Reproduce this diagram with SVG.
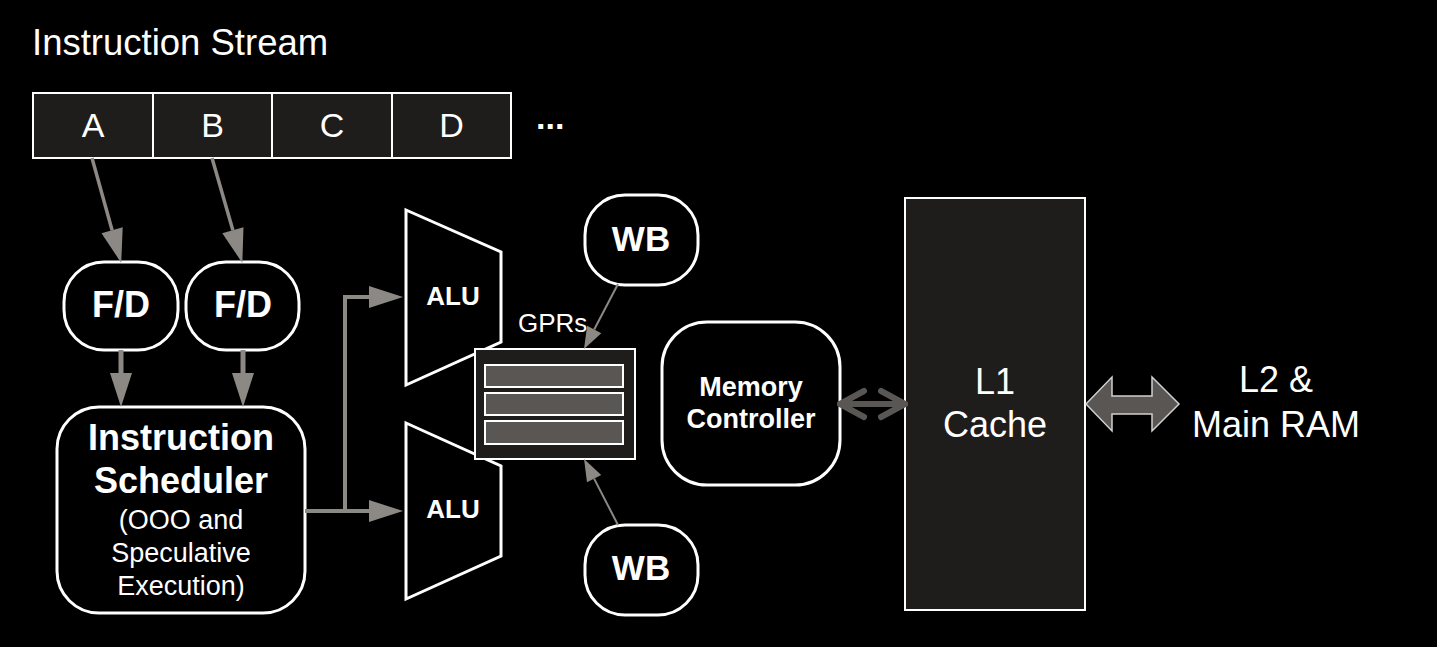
<svg xmlns="http://www.w3.org/2000/svg" width="1437" height="647" viewBox="0 0 1437 647">
<style>
text{font-family:"Liberation Sans",Arial,sans-serif;fill:#fff}
.b{font-weight:bold}
.m{text-anchor:middle}
.node{fill:#000;stroke:#fff;stroke-width:3}
.dark{fill:#1f1d1b;stroke:#fff;stroke-width:2}
.reg{fill:#5a5653;stroke:#fff;stroke-width:2}
.ln{fill:none;stroke:#8c8985}
</style>
<defs>
<marker id="ahL" markerUnits="userSpaceOnUse" viewBox="0 -12 34 24" refX="0" refY="0" markerWidth="34" markerHeight="24" orient="auto" overflow="visible">
<path d="M0,-11 L34,0 L0,11 Z" fill="#8c8985"/>
</marker>
<marker id="ahS" markerUnits="userSpaceOnUse" viewBox="0 -9 22 18" refX="0" refY="0" markerWidth="22" markerHeight="18" orient="auto" overflow="visible">
<path d="M0,-8 L22,0 L0,8 Z" fill="#8c8985"/>
</marker>
</defs>
<rect width="1437" height="647" fill="#000"/>

<text id="title" x="32" y="55" font-size="36.5">Instruction Stream</text>

<g id="stream">
<rect class="dark" x="33" y="93" width="478" height="65"/>
<line x1="153" y1="93" x2="153" y2="158" stroke="#fff" stroke-width="2"/>
<line x1="272" y1="93" x2="272" y2="158" stroke="#fff" stroke-width="2"/>
<line x1="392" y1="93" x2="392" y2="158" stroke="#fff" stroke-width="2"/>
<text class="m" x="93" y="137" font-size="34">A</text>
<text class="m" x="212.5" y="137" font-size="34">B</text>
<text class="m" x="332" y="137" font-size="34">C</text>
<text class="m" x="451.5" y="137" font-size="34">D</text>
<text class="b" x="536" y="129" font-size="34">...</text>
</g>

<g id="fd1">
<rect class="node" x="64" y="262" width="114" height="88" rx="40"/>
<text class="b m" x="121" y="317" font-size="36">F/D</text>
</g>
<g id="fd2">
<rect class="node" x="186" y="262" width="113" height="88" rx="40"/>
<text class="b m" x="243" y="317" font-size="36">F/D</text>
</g>

<g id="scheduler">
<rect class="node" x="57" y="407" width="248" height="206" rx="42"/>
<text class="b m" x="181" y="450" font-size="36">Instruction</text>
<text class="b m" x="181" y="493" font-size="36">Scheduler</text>
<text class="m" x="181" y="529" font-size="27">(OOO and</text>
<text class="m" x="181" y="562" font-size="27">Speculative</text>
<text class="m" x="181" y="595" font-size="27">Execution)</text>
</g>

<g id="alu1">
<polygon class="node" points="406,210 501,252 501,342 406,385"/>
<text class="b m" x="453" y="305" font-size="26">ALU</text>
</g>
<g id="alu2">
<polygon class="node" points="406,423 501,466 501,556 406,599"/>
<text class="b m" x="453" y="518" font-size="26">ALU</text>
</g>

<g id="gprs">
<rect class="dark" x="475" y="349" width="160" height="110"/>
<rect class="reg" x="485" y="365" width="138" height="22"/>
<rect class="reg" x="485" y="393" width="138" height="22"/>
<rect class="reg" x="485" y="421" width="138" height="23"/>
<text x="518" y="332" font-size="26">GPRs</text>
</g>

<g id="wb1">
<rect class="node" x="585" y="195" width="113" height="90" rx="40"/>
<text class="b m" x="641" y="251" font-size="35">WB</text>
</g>
<g id="wb2">
<rect class="node" x="585" y="525" width="113" height="90" rx="40"/>
<text class="b m" x="641" y="580" font-size="35">WB</text>
</g>

<g id="memctrl">
<rect class="node" x="662" y="322" width="178" height="163" rx="45"/>
<text class="b m" x="751" y="396" font-size="27">Memory</text>
<text class="b m" x="751" y="428" font-size="27">Controller</text>
</g>

<g id="l1">
<rect class="dark" x="905" y="198" width="180" height="412"/>
<text class="m" x="995" y="394" font-size="36">L1</text>
<text class="m" x="995" y="437" font-size="36">Cache</text>
</g>

<g id="l2">
<text class="m" x="1276" y="392" font-size="36">L2 &amp;</text>
<text class="m" x="1276" y="437" font-size="36">Main RAM</text>
</g>

<g id="connectors">
<line class="ln" x1="92" y1="158" x2="112.1" y2="230.2" stroke-width="3.5" marker-end="url(#ahL)"/>
<line class="ln" x1="212" y1="158" x2="232.9" y2="230.3" stroke-width="3.5" marker-end="url(#ahL)"/>
<line class="ln" x1="121" y1="350" x2="121" y2="373" stroke-width="5" marker-end="url(#ahL)"/>
<line class="ln" x1="243" y1="350" x2="243" y2="373" stroke-width="5" marker-end="url(#ahL)"/>
<polyline class="ln" points="305,511 369,511" stroke-width="4" marker-end="url(#ahL)"/>
<polyline class="ln" points="345,511 345,297 369,297" stroke-width="4" marker-end="url(#ahL)"/>
<line class="ln" x1="618" y1="284" x2="594.2" y2="329.5" stroke-width="2" marker-end="url(#ahS)"/>
<line class="ln" x1="618" y1="525" x2="594.1" y2="478.6" stroke-width="2" marker-end="url(#ahS)"/>
<g fill="none" stroke="#5a5653" stroke-width="6" stroke-linecap="round" stroke-linejoin="round">
<line x1="840" y1="404" x2="905" y2="404"/>
<path d="M864,391 L840,404 L864,417"/>
<path d="M881,391 L905,404 L881,417"/>
</g>
<polygon points="1086,404 1112,377 1112,396 1152,396 1152,377 1179,404 1152,431 1152,414 1112,414 1112,431" fill="#5a5653" stroke="#d0d0d0" stroke-width="1.5"/>
</g>
</svg>
